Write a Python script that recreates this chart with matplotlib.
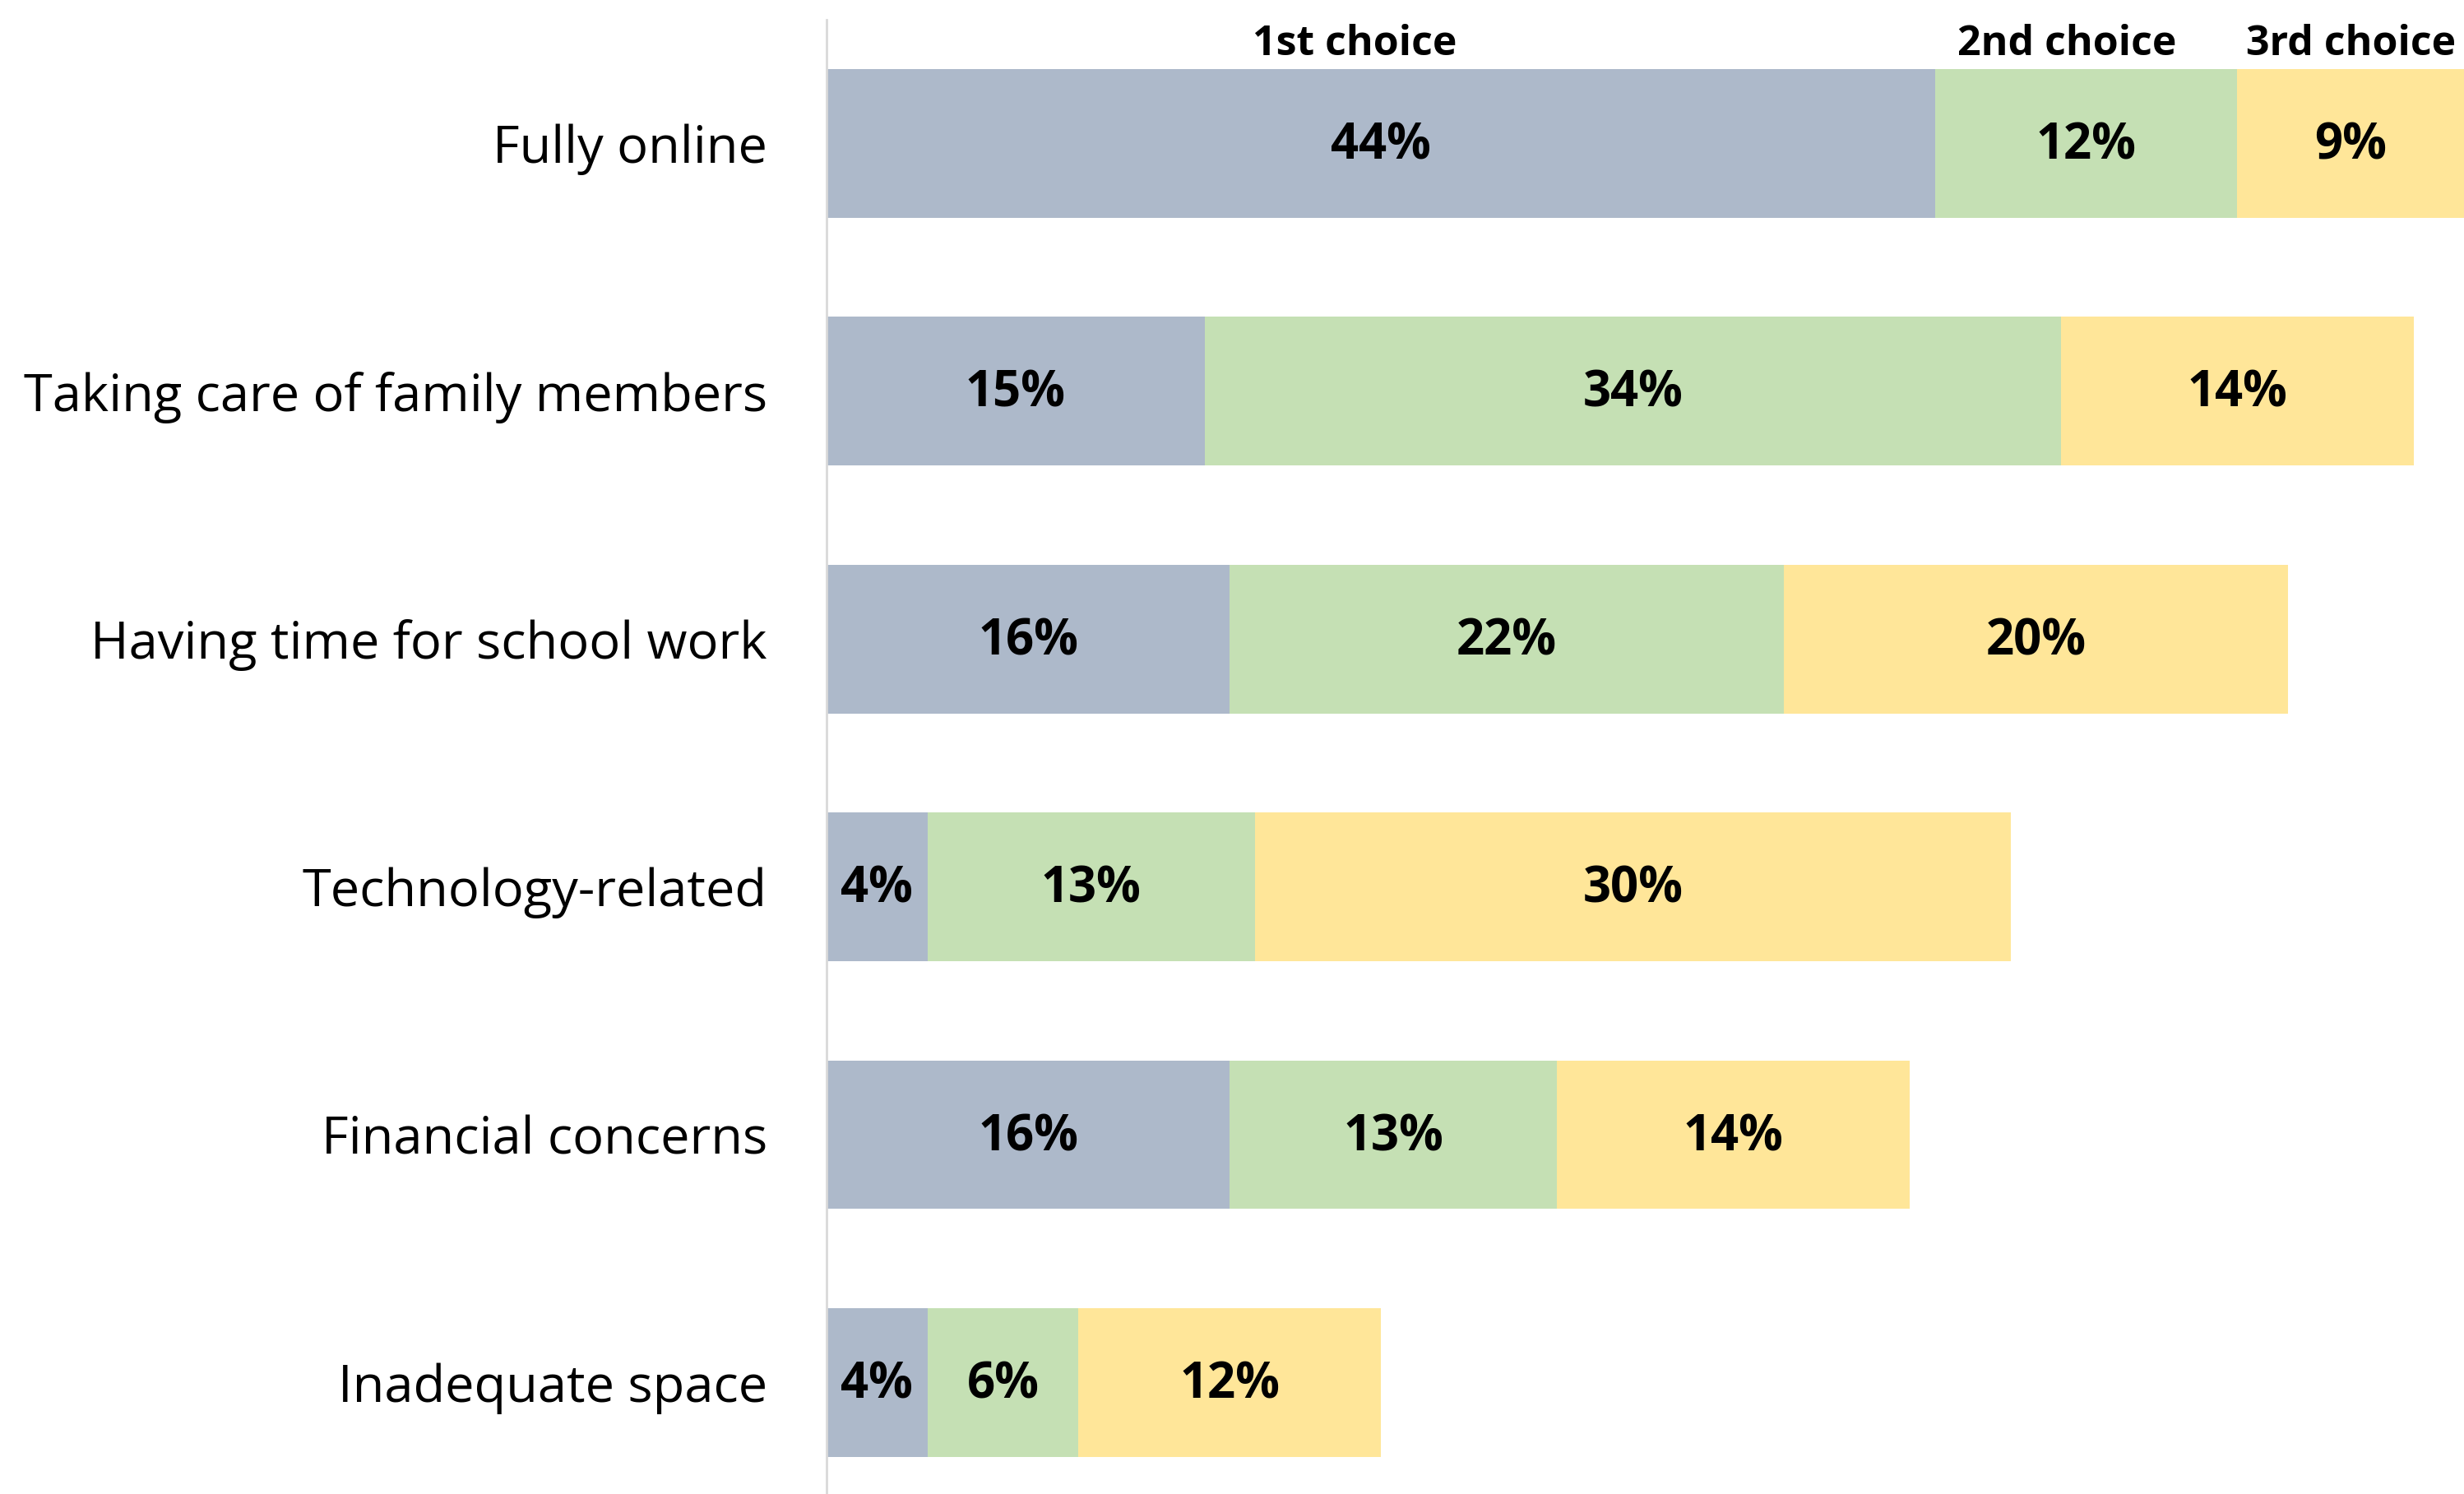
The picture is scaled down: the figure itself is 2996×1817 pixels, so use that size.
import matplotlib.pyplot as plt
import numpy as np

# Data
categories = ['Fully online', 'Taking care of family members', 'Having time for school work',
              'Technology-related', 'Financial concerns', 'Inadequate space']
first_choice = [44, 15, 16, 4, 16, 4]
second_choice = [12, 34, 22, 13, 13, 6]
third_choice = [9, 14, 20, 30, 14, 12]
series_names = ['1st choice', '2nd choice', '3rd choice']
colors = ['#ADB9CA', '#C5E0B4', '#FFE699']
header_shift = [-1.05, -0.75, 0.0]   # headers sit slightly left of segment centres

plt.rcParams['font.family'] = ['Open Sans', 'DejaVu Sans']

fig = plt.figure(figsize=(29.96, 18.17), dpi=100)
ax = fig.add_axes([0.3355, 0.0, 0.6645, 0.987])

y = np.arange(len(categories))
left = np.zeros(len(categories))
for vals, name, col, dx in zip([first_choice, second_choice, third_choice],
                               series_names, colors, header_shift):
    vals = np.array(vals)
    ax.barh(y, vals, left=left, height=0.6, color=col, edgecolor='none')
    for yi, l, v in zip(y, left, vals):
        ax.text(l + v / 2, yi + 0.012, f'{v}%', ha='center', va='center',
                fontsize=43, fontweight='bold', color='black')
    # series header above the first row
    ax.text(left[0] + vals[0] / 2 + dx, -0.40, name, ha='center', va='center',
            fontsize=36, fontweight='bold', color='black')
    left = left + vals

ax.set_xlim(0, 65)
ax.set_ylim(5.45, -0.5)
ax.set_yticks(y)
ax.set_yticklabels(categories, fontsize=45.5)
ax.tick_params(axis='y', length=0, pad=52)
ax.set_xticks([])
for s in ['top', 'right', 'bottom']:
    ax.spines[s].set_visible(False)
ax.spines['left'].set_color('#D9D9D9')
ax.spines['left'].set_linewidth(2)

fig.savefig('out.png', dpi=100)
